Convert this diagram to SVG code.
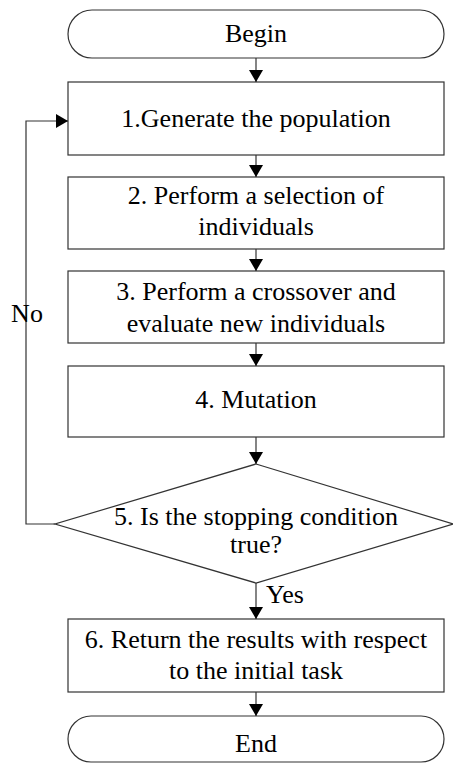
<svg xmlns="http://www.w3.org/2000/svg" width="453" height="764" viewBox="0 0 453 764">
<style>
.s{fill:#fff;stroke:#333;stroke-width:1.2}
.c{fill:none;stroke:#333;stroke-width:1.2}
.t{font-family:'Liberation Serif','Times New Roman',serif;font-size:26px;fill:#000;text-anchor:middle}
</style>
<defs>
<marker id="a" markerWidth="12" markerHeight="14" refX="12" refY="7" orient="auto" markerUnits="userSpaceOnUse">
<path d="M0,0 L12,7 L0,14 Z" fill="#000"/>
</marker>
</defs>
<rect width="453" height="764" fill="#fff"/>
<g id="begin"><rect class="s" x="68" y="10" width="376" height="48" rx="24" ry="24"/><text class="t" x="256" y="42">Begin</text></g>
<g id="n1"><rect class="s" x="68" y="82" width="376" height="73"/><text class="t" x="256" y="127">1.Generate the population</text></g>
<g id="n2"><rect class="s" x="68" y="177" width="376" height="72"/><text class="t" x="256" y="204">2. Perform a selection of</text><text class="t" x="256" y="235">individuals</text></g>
<g id="n3"><rect class="s" x="68" y="271" width="376" height="72"/><text class="t" x="256" y="300">3. Perform a crossover and</text><text class="t" x="256" y="332">evaluate new individuals</text></g>
<g id="n4"><rect class="s" x="68" y="366" width="376" height="71"/><text class="t" x="256" y="408">4. Mutation</text></g>
<g id="n5"><polygon class="s" points="256,464 453,524 256,583 55,524"/><text class="t" x="256" y="525">5. Is the stopping condition</text><text class="t" x="256" y="553">true?</text></g>
<g id="n6"><rect class="s" x="68" y="619" width="376" height="73"/><text class="t" x="256" y="648">6. Return the results with respect</text><text class="t" x="256" y="679">to the initial task</text></g>
<g id="end"><rect class="s" x="68" y="716" width="376" height="46" rx="23" ry="23"/><text class="t" x="256" y="752">End</text></g>
<g id="connectors">
<line class="c" x1="256" y1="58" x2="256" y2="82" marker-end="url(#a)"/>
<line class="c" x1="256" y1="155" x2="256" y2="177" marker-end="url(#a)"/>
<line class="c" x1="256" y1="249" x2="256" y2="271" marker-end="url(#a)"/>
<line class="c" x1="256" y1="343" x2="256" y2="366" marker-end="url(#a)"/>
<line class="c" x1="256" y1="437" x2="256" y2="464" marker-end="url(#a)"/>
<line class="c" x1="256" y1="583" x2="256" y2="619" marker-end="url(#a)"/>
<line class="c" x1="256" y1="692" x2="256" y2="716" marker-end="url(#a)"/>
<polyline class="c" points="55,524 26,524 26,121 68,121" marker-end="url(#a)"/>
<text class="t" x="27" y="322">No</text>
<text class="t" x="285" y="603">Yes</text>
</g>
</svg>
